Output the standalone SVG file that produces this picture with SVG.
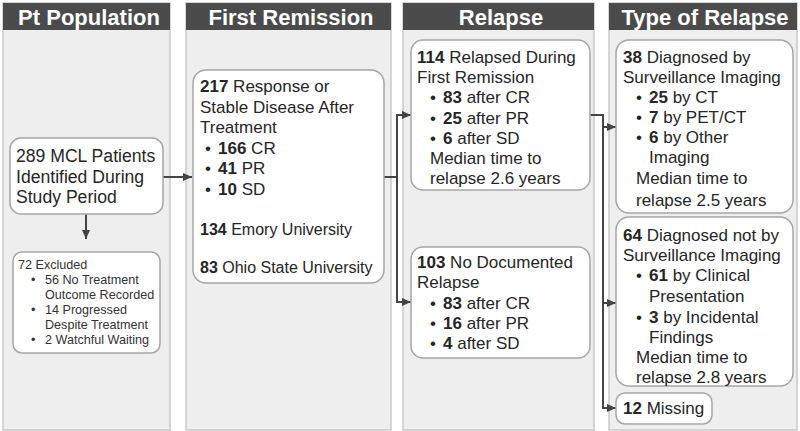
<svg xmlns="http://www.w3.org/2000/svg" width="800" height="431" viewBox="0 0 800 431">
<style>
.panel{fill:#eeeeee;stroke:#c9c9c9;stroke-width:1.5}
.hdr{fill:#4b4b4b}
.htxt{font-family:"Liberation Sans",Arial,sans-serif;font-size:22px;font-weight:bold;fill:#ffffff;text-anchor:middle}
.node{fill:#ffffff;stroke:#a6a6a6;stroke-width:1.5}
.t{font-family:"Liberation Sans",Arial,sans-serif;font-size:17px;fill:#262626}
.s{font-family:"Liberation Sans",Arial,sans-serif;font-size:12.6px;fill:#333333}
.b{font-weight:bold}
.c{fill:none;stroke:#444444;stroke-width:2}
</style>
<defs>
<marker id="ah" markerUnits="userSpaceOnUse" markerWidth="10" markerHeight="10" viewBox="0 0 10 10" refX="9" refY="5" orient="auto">
<path d="M0,1 L9,5 L0,9 Z" fill="#444444"/>
</marker>
</defs>
<rect width="800" height="431" fill="#ffffff"/>
<g id="panels">
<rect class="panel" x="3" y="3" width="167" height="427"/>
<rect class="hdr" x="3" y="3" width="167" height="27"/>
<text class="htxt" x="89" y="25">Pt Population</text>
<rect class="panel" x="186" y="3" width="205" height="427"/>
<rect class="hdr" x="186" y="3" width="205" height="27"/>
<text class="htxt" x="291" y="25">First Remission</text>
<rect class="panel" x="403" y="3" width="191" height="427"/>
<rect class="hdr" x="403" y="3" width="191" height="27"/>
<text class="htxt" x="501" y="25">Relapse</text>
<rect class="panel" x="609" y="3" width="188" height="427"/>
<rect class="hdr" x="609" y="3" width="188" height="27"/>
<text class="htxt" x="705" y="25">Type of Relapse</text>
</g>
<g id="connectors">
<line class="c" x1="163" y1="177" x2="192" y2="177" marker-end="url(#ah)"/>
<line class="c" x1="86" y1="214" x2="86" y2="239" marker-end="url(#ah)"/>
<polyline class="c" points="384,177 397,177"/>
<line class="c" x1="397" y1="114" x2="397" y2="303"/>
<line class="c" x1="396" y1="115" x2="411" y2="115" marker-end="url(#ah)"/>
<line class="c" x1="396" y1="302" x2="411" y2="302" marker-end="url(#ah)"/>
<polyline class="c" points="590,115 603,115 603,409"/>
<line class="c" x1="602" y1="127" x2="616" y2="127" marker-end="url(#ah)"/>
<line class="c" x1="602" y1="303" x2="616" y2="303" marker-end="url(#ah)"/>
<line class="c" x1="602" y1="408" x2="616" y2="408" marker-end="url(#ah)"/>
</g>
<g id="n289">
<rect class="node" x="10" y="138" width="153" height="76" rx="11"/>
<text class="t" x="16" y="162" style="font-size:17.6px">289 MCL Patients</text>
<text class="t" x="16" y="182.5" style="font-size:17.6px">Identified During</text>
<text class="t" x="16" y="203" style="font-size:17.6px">Study Period</text>
</g>
<g id="nexcluded">
<rect class="node" x="13" y="252" width="147" height="101" rx="9"/>
<text class="s" x="18" y="268.5">72 Excluded</text>
<text class="s" x="31" y="283.5">•</text>
<text class="s" x="45" y="283.5">56 No Treatment</text>
<text class="s" x="45" y="298.5">Outcome Recorded</text>
<text class="s" x="31" y="313.5">•</text>
<text class="s" x="45" y="313.5">14 Progressed</text>
<text class="s" x="45" y="328.5">Despite Treatment</text>
<text class="s" x="31" y="343.5">•</text>
<text class="s" x="45" y="343.5">2 Watchful Waiting</text>
</g>
<g id="n217">
<rect class="node" x="193" y="70" width="191" height="213" rx="13"/>
<text class="t" x="200" y="92"><tspan class="b">217</tspan> Response or</text>
<text class="t" x="200" y="112.5">Stable Disease After</text>
<text class="t" x="200" y="133">Treatment</text>
<text class="t" x="205" y="153.5">•</text>
<text class="t" x="218" y="153.5"><tspan class="b">166</tspan> CR</text>
<text class="t" x="205" y="174">•</text>
<text class="t" x="218" y="174"><tspan class="b">41</tspan> PR</text>
<text class="t" x="205" y="194.5">•</text>
<text class="t" x="218" y="194.5"><tspan class="b">10</tspan> SD</text>
<text class="t" x="200" y="235" style="font-size:16px"><tspan class="b">134</tspan> Emory University</text>
<text class="t" x="200" y="273" style="font-size:16px"><tspan class="b">83</tspan> Ohio State University</text>
</g>
<g id="n114">
<rect class="node" x="411" y="40" width="179" height="150" rx="12"/>
<text class="t" x="417" y="63"><tspan class="b">114</tspan> Relapsed During</text>
<text class="t" x="417" y="83.2">First Remission</text>
<text class="t" x="430" y="103.4">•</text>
<text class="t" x="443" y="103.4"><tspan class="b">83</tspan> after CR</text>
<text class="t" x="430" y="123.6">•</text>
<text class="t" x="443" y="123.6"><tspan class="b">25</tspan> after PR</text>
<text class="t" x="430" y="143.8">•</text>
<text class="t" x="443" y="143.8"><tspan class="b">6</tspan> after SD</text>
<text class="t" x="430" y="164">Median time to</text>
<text class="t" x="430" y="184.2">relapse 2.6 years</text>
</g>
<g id="n103">
<rect class="node" x="411" y="247" width="179" height="111" rx="12"/>
<text class="t" x="417" y="268"><tspan class="b">103</tspan> No Documented</text>
<text class="t" x="417" y="288.3">Relapse</text>
<text class="t" x="430" y="308.6">•</text>
<text class="t" x="443" y="308.6"><tspan class="b">83</tspan> after CR</text>
<text class="t" x="430" y="328.9">•</text>
<text class="t" x="443" y="328.9"><tspan class="b">16</tspan> after PR</text>
<text class="t" x="430" y="349.2">•</text>
<text class="t" x="443" y="349.2"><tspan class="b">4</tspan> after SD</text>
</g>
<g id="n38">
<rect class="node" x="616" y="40" width="177" height="173" rx="13"/>
<text class="t" x="623" y="62.7"><tspan class="b">38</tspan> Diagnosed by</text>
<text class="t" x="623" y="82.7">Surveillance Imaging</text>
<text class="t" x="636" y="102.7">•</text>
<text class="t" x="649" y="102.7"><tspan class="b">25</tspan> by CT</text>
<text class="t" x="636" y="122.7">•</text>
<text class="t" x="649" y="122.7"><tspan class="b">7</tspan> by PET/CT</text>
<text class="t" x="636" y="142.7">•</text>
<text class="t" x="649" y="142.7"><tspan class="b">6</tspan> by Other</text>
<text class="t" x="649" y="162.7">Imaging</text>
<text class="t" x="636" y="184.3">Median time to</text>
<text class="t" x="636" y="206">relapse 2.5 years</text>
</g>
<g id="n64">
<rect class="node" x="616" y="217" width="177" height="169" rx="13"/>
<text class="t" x="623" y="241"><tspan class="b">64</tspan> Diagnosed not by</text>
<text class="t" x="623" y="261">Surveillance Imaging</text>
<text class="t" x="636" y="281">•</text>
<text class="t" x="649" y="281"><tspan class="b">61</tspan> by Clinical</text>
<text class="t" x="649" y="302">Presentation</text>
<text class="t" x="636" y="323">•</text>
<text class="t" x="649" y="323"><tspan class="b">3</tspan> by Incidental</text>
<text class="t" x="649" y="343">Findings</text>
<text class="t" x="636" y="363">Median time to</text>
<text class="t" x="636" y="383">relapse 2.8 years</text>
</g>
<g id="n12">
<rect class="node" x="616" y="393" width="96" height="31" rx="9"/>
<text class="t" x="623" y="414"><tspan class="b">12</tspan> Missing</text>
</g>
</svg>
